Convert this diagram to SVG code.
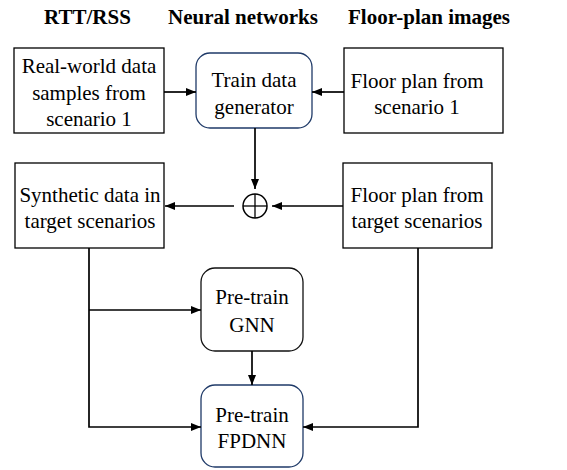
<svg xmlns="http://www.w3.org/2000/svg" width="567" height="470" viewBox="0 0 567 470">
  <style>
    .title { font-family: "Liberation Serif", "Times New Roman", serif; font-weight: bold; font-size: 21px; fill: #000; text-anchor: middle; }
    .lbl { font-family: "Liberation Serif", "Times New Roman", serif; font-size: 21px; fill: #000; text-anchor: middle; }
    .box { fill: #fff; stroke: #000; stroke-width: 1.3; }
    .rbox { fill: #fff; stroke: #1f3a68; stroke-width: 1.3; }
    .gbox { fill: #fff; stroke: #111; stroke-width: 1.3; }
    .conn { fill: none; stroke: #000; stroke-width: 1.7; }
  </style>
  <defs>
    <marker id="arr" markerUnits="userSpaceOnUse" markerWidth="10" markerHeight="8" refX="10" refY="4" orient="auto">
      <path d="M0,0 L10,4 L0,8 z" fill="#000"/>
    </marker>
  </defs>
  <rect width="567" height="470" fill="#fff"/>

  <g id="titles">
    <text class="title" x="87.5" y="24">RTT/RSS</text>
    <text class="title" x="243" y="24">Neural networks</text>
    <text class="title" x="429" y="24">Floor-plan images</text>
  </g>

  <g id="real-world">
    <rect class="box" x="14" y="48" width="150" height="85"/>
    <text class="lbl" x="89" y="73">Real-world data</text>
    <text class="lbl" x="89" y="99.5">samples from</text>
    <text class="lbl" x="89" y="126">scenario 1</text>
  </g>

  <g id="train-gen">
    <rect class="rbox" x="196" y="53" width="116" height="75" rx="14"/>
    <text class="lbl" x="254" y="87">Train data</text>
    <text class="lbl" x="254" y="113.5">generator</text>
  </g>

  <g id="floor1">
    <rect class="box" x="344" y="48" width="159" height="85"/>
    <text class="lbl" x="417" y="87.5">Floor plan from</text>
    <text class="lbl" x="417" y="114">scenario 1</text>
  </g>

  <g id="synthetic">
    <rect class="box" x="15" y="163" width="149" height="85"/>
    <text class="lbl" x="90" y="201.5">Synthetic data in</text>
    <text class="lbl" x="90" y="227.5">target scenarios</text>
  </g>

  <g id="floor-target">
    <rect class="box" x="343" y="163" width="149" height="85"/>
    <text class="lbl" x="417" y="201.5">Floor plan from</text>
    <text class="lbl" x="417" y="227.5">target scenarios</text>
  </g>

  <g id="plus">
    <circle cx="255" cy="206" r="12" fill="#fff" stroke="#000" stroke-width="1.5"/>
    <line x1="243" y1="206" x2="267" y2="206" stroke="#000" stroke-width="1.3"/>
    <line x1="255" y1="194" x2="255" y2="218" stroke="#000" stroke-width="1.3"/>
  </g>

  <g id="gnn">
    <rect class="gbox" x="201" y="268" width="102" height="83" rx="14"/>
    <text class="lbl" x="252" y="304">Pre-train</text>
    <text class="lbl" x="252" y="331.5">GNN</text>
  </g>

  <g id="fpdnn">
    <rect class="rbox" x="201" y="385" width="102" height="82" rx="14"/>
    <text class="lbl" x="252" y="421.5">Pre-train</text>
    <text class="lbl" x="252" y="448">FPDNN</text>
  </g>

  <g id="connectors">
    <line class="conn" x1="164" y1="92" x2="196" y2="92" marker-end="url(#arr)"/>
    <line class="conn" x1="344" y1="92" x2="312" y2="92" marker-end="url(#arr)"/>
    <line class="conn" x1="255" y1="128" x2="255" y2="189" marker-end="url(#arr)"/>
    <line class="conn" x1="234" y1="206" x2="165" y2="206" marker-end="url(#arr)"/>
    <line class="conn" x1="343" y1="206" x2="272" y2="206" marker-end="url(#arr)"/>
    <path class="conn" d="M89,248 V427 H201" marker-end="url(#arr)"/>
    <line class="conn" x1="89" y1="310" x2="201" y2="310" marker-end="url(#arr)"/>
    <path class="conn" d="M418,248 V427 H303" marker-end="url(#arr)"/>
    <line class="conn" x1="252" y1="351" x2="252" y2="385" marker-end="url(#arr)"/>
  </g>
</svg>
